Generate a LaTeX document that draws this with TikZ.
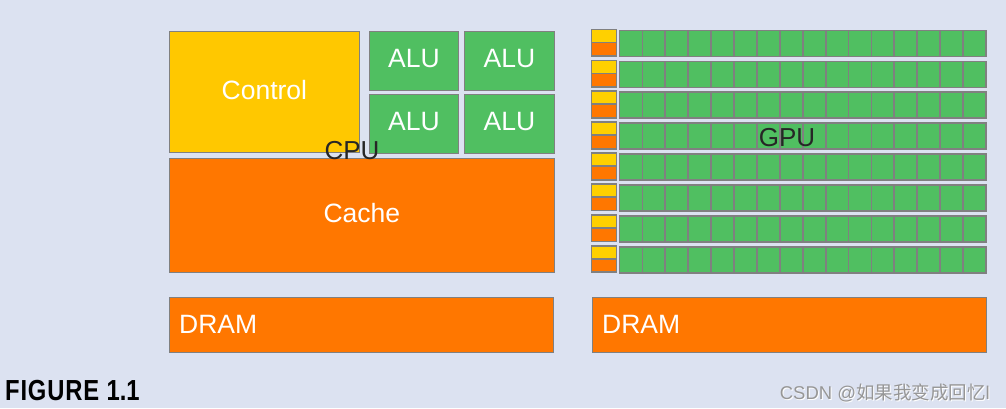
\documentclass[tikz,border=0pt]{standalone}
\usepackage{fontspec}
\setmainfont{Liberation Sans}
\newfontfamily\cjkfont{Noto Sans CJK SC}
\definecolor{bgc}{RGB}{220,226,241}
\definecolor{gre}{RGB}{80,191,97}
\definecolor{yel}{RGB}{255,200,0}
\definecolor{ylt}{RGB}{255,208,0}
\definecolor{ora}{RGB}{255,119,0}
\definecolor{bdr}{RGB}{128,128,128}
\definecolor{wm}{RGB}{150,150,150}
\newcommand{\up}[1]{\raisebox{5pt}{#1}}
\begin{document}
\begin{tikzpicture}[x=1pt,y=-1pt,
  box/.style={draw=bdr,line width=1.8pt,inner sep=0pt,anchor=north west,text=white},
  big/.style={font=\fontsize{26.5}{30}\selectfont},
  lab/.style={font=\fontsize{26}{30}\selectfont,text=black!85,inner sep=0pt}]
\fill[bgc] (0,0) rectangle (1006,408);
\useasboundingbox (0,0) rectangle (1006,408);
% CPU
\node[box,big,fill=yel,minimum width=190pt,minimum height=121pt] (ctrl) at (168.5,30.5) {\up{Control}};
\node[box,big,fill=gre,minimum width=89pt,minimum height=59pt] (alu1) at (368.5,30.5) {\up{ALU}};
\node[box,big,fill=gre,minimum width=90pt,minimum height=59pt] (alu2) at (463.5,30.5) {\up{ALU}};
\node[box,big,fill=gre,minimum width=89pt,minimum height=59pt] (alu3) at (368.5,93.5) {\up{ALU}};
\node[box,big,fill=gre,minimum width=90pt,minimum height=59pt] (alu4) at (463.5,93.5) {\up{ALU}};
\node[box,big,fill=ora,minimum width=385pt,minimum height=114pt] (cache) at (168.5,157.5) {\up{Cache}};
\node[lab] (cpu) at (352,151) {CPU};
% DRAM
\node[box,fill=ora,minimum width=384pt,minimum height=55pt] (dram1) at (168.5,296.5) {};
\node[big,text=white,anchor=west,inner sep=0pt] (dt1) at (179,324) {DRAM};
\node[box,fill=ora,minimum width=394pt,minimum height=55pt] (dram2) at (591.5,296.5) {};
\node[big,text=white,anchor=west,inner sep=0pt] (dt2) at (602,324) {DRAM};
% GPU grid
\foreach \i in {0,...,7}{
  \pgfmathsetmacro{\t}{30+\i*30.9}
  \draw[draw=bdr,line width=1.8pt,fill=ylt] (591.5,\t-0.5) rectangle (616.5,\t+12.5);
  \draw[draw=bdr,line width=1.8pt,fill=ora] (591.5,\t+12.5) rectangle (616.5,\t+26);
  \foreach \j in {0,...,15}{
    \draw[draw=bdr,line width=1.8pt,fill=gre] (619.5+\j*22.9,\t+0.5) rectangle (619.5+\j*22.9+22.9,\t+26.5);
  }
}
\node[lab] (gpu) at (787,138) {GPU};
% caption
\node[anchor=west,inner sep=0pt] (fig) at (5,391) {\scalebox{0.82}[1]{\fontsize{29}{32}\selectfont\bfseries F\kern1ptI\kern1ptG\kern1ptU\kern1ptR\kern1ptE\kern1pt\ 1.1}};
\node[anchor=east,inner sep=0pt,text=white] (wm2) at (991,394) {\fontsize{18.5}{20}\selectfont CSDN @{\cjkfont 如果我变成回忆}l};
\node[anchor=east,inner sep=0pt,text=wm] (wm) at (990,393) {\fontsize{18.5}{20}\selectfont CSDN @{\cjkfont 如果我变成回忆}l};
\end{tikzpicture}
\end{document}
